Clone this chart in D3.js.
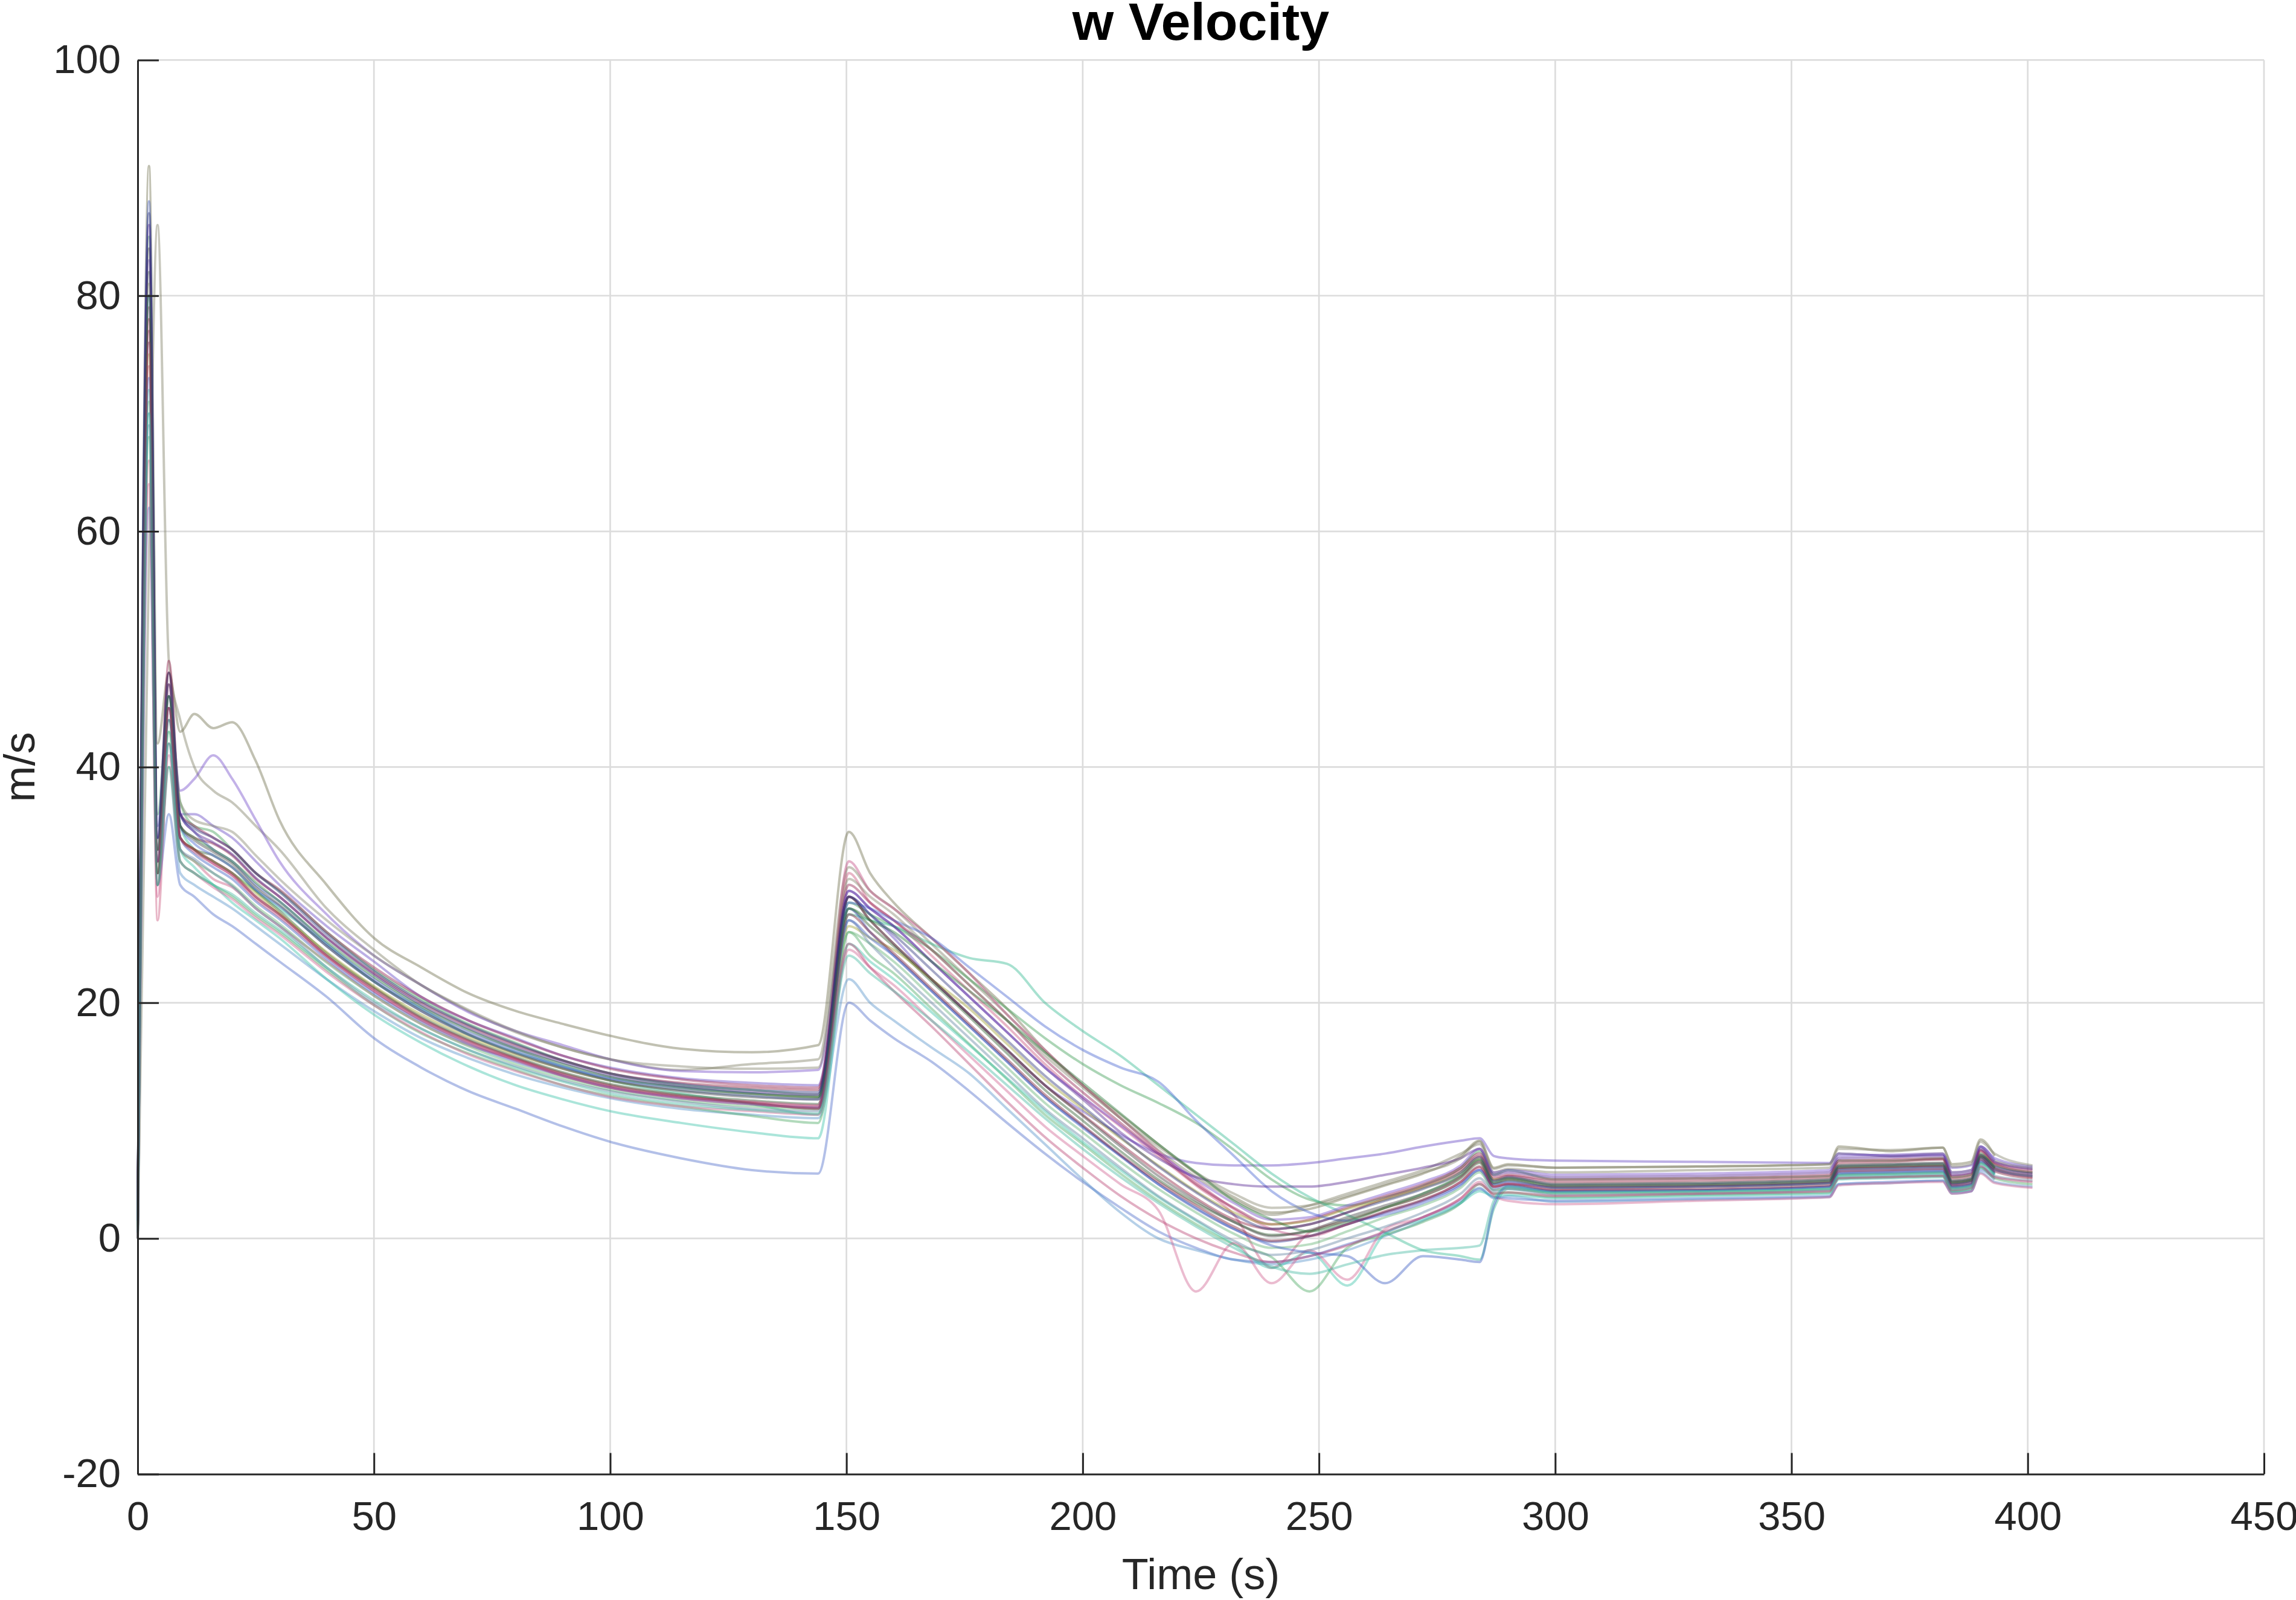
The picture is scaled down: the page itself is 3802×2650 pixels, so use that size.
<!DOCTYPE html>
<html>
<head>
<meta charset="utf-8">
<script src="https://cdn.jsdelivr.net/npm/d3@7"></script>
<style>
  html, body { margin: 0; padding: 0; background: #fff; }
  svg { display: block; }
</style>
</head>
<body>
<div id="chart"></div>
<script>
// ============================================================
// Data (one array per Monte Carlo run)
// ============================================================

const times = [
  0, 2.4, 4.2, 6.6, 9, 12, 16, 20, 25, 30,
  40, 50, 60, 70, 80, 90, 100, 115, 130, 144,
  150.5, 155, 160, 168, 176, 184, 192, 200, 208, 216,
  224, 232, 240, 248, 256, 264, 272, 280, 284, 287,
  290, 300, 330, 358, 360, 371, 382, 384, 388, 390, 393, 401
];

const xTicks = [0, 50, 100, 150, 200, 250, 300, 350, 400, 450];
const yTicks = [-20, 0, 20, 40, 60, 80, 100];

const run01 = [0.5, 91, 42, 48, 43, 44.5, 43.3, 43.8, 40.5, 35.5,
  30, 25.5, 23, 20.8, 19.3, 18.2, 17.2, 16.1, 15.8, 16.4,
  34.5, 31, 28.5, 25.5, 22.5, 19.5, 16, 13, 10.5, 8,
  5.5, 3.5, 2.2, 2.5, 3.5, 4.5, 5.5, 7, 8.3, 6,
  6.3, 6.0, 6.1, 6.3, 7.8, 7.4, 7.7, 6.3, 6.5, 8.4, 7.0, null];
const run02 = [0, 58, 86, 49, 44, 40, 38, 37, 35, 33,
  28, 24.5, 21.5, 19.3, 17.5, 16.2, 15.2, 14.3, 14.8, 15.2,
  31.5, 29.5, 28, 25, 22, 19, 15.8, 13, 10.2, 7.5,
  5.2, 3.3, 2.0, 2.8, 3.8, 4.8, 5.8, 7.2, 8.0, 5.6,
  5.9, 5.6, 5.8, 6.0, 7.2, 7.0, 7.2, 5.6, 5.8, 7.8, 6.6, 6.0];
const run03 = [1, 66, 27, 42, 33, 32, 30.5, 29.8, 28, 26.5,
  23.5, 20.6, 18.2, 16.4, 15.2, 13.8, 12.8, 12.0, 11.5, 11.2,
  31, 28.5, 27, 24, 21, 18, 14.8, 12, 9.5, 7,
  4.5, 2, -2.5, 0.5, 1.5, 2.6, 3.6, 5.2, 6.5, 4.4,
  4.7, 4.2, 4.4, 4.7, 5.9, 6.0, 6.1, 4.6, 4.9, 6.9, 5.9, 5.2];
const run04 = [0, 62, 30, 36, 30, 29, 27.5, 26.5, 25, 23.5,
  20.5, 17, 14.5, 12.5, 11, 9.5, 8.2, 6.8, 5.8, 5.5,
  20, 18.5, 17, 15, 12.5, 9.8, 7.2, 4.8, 2.6, 0.6,
  -0.8, -1.8, -2, -1.5, -0.5, 0.5, 1.8, 3.2, 4.2, 3.5,
  3.4, 3.2, 3.4, 3.6, 4.6, 4.8, 4.9, 3.9, 4.0, 5.8, 5.0, null];
const run05 = [2, 80, 33, 47, 36, 36, 35, 34, 32, 30,
  26.5, 23.5, 20.5, 18.5, 17, 15.5, 14.5, 13.6, 13.2, 13.0,
  29, 27.5, 25.5, 22, 19, 16, 13, 10.8, 8.8, 7.2,
  6.4, 6.2, 6.2, 6.4, 6.8, 7.2, 7.8, 8.3, 8.5, 7.0,
  6.8, 6.6, 6.5, 6.4, 7.2, 7.0, 7.1, 6.0, 6.2, 7.8, 6.8, 6.1];
const run06 = [1, 85, 36, 46, 37, 35, 34.5, 33, 31, 29.5,
  26, 22.8, 20.3, 18.2, 16.6, 15.1, 14, 13, 12.6, 12.2,
  28.5, 27.5, 26.5, 24.5, 22, 19.5, 17, 14.8, 13, 11.5,
  9.8, 7.5, 5, 3.3, 2.8, 3.5, 4.5, 6, 7.4, 5.4,
  5.8, 5.0, 5.1, 5.3, 6.6, 6.6, 6.8, 5.2, 5.4, 7.2, 6.2, 5.6];
const run07 = [0.5, 76, 32, 44, 35, 33, 32, 31, 29.5, 28,
  25, 21.8, 19.5, 17.3, 15.8, 14.6, 13.4, 12.3, 11.4, 10.5,
  27.5, 27, 26.5, 25, 23.8, 23.3, 20, 17.6, 15.5, 13,
  10.5, 8, 5.5, 3.5, 2, 0.5, -1, -1.5, -1.8, 2.5,
  4.2, 3.9, 4.0, 4.3, 5.4, 5.5, 5.6, 4.3, 4.5, 6.4, 5.4, null];
const run08 = [1, 79, 32, 48, 35, 34, 33.5, 32.5, 30.5, 29,
  25.5, 22.5, 20, 18, 16.4, 15.1, 14, 13.2, 12.8, 12.6,
  29, 27, 25, 22, 19, 16, 13, 10.5, 8, 5.6,
  3.4, 1.6, 0.8, 1.2, 2.2, 3.4, 4.4, 5.8, 7.0, 5.0,
  5.3, 4.8, 4.9, 5.2, 6.4, 6.5, 6.7, 5.1, 5.3, 7.4, 6.3, 5.6];
const run09 = [1.5, 82, 31, 45, 34, 33, 32.5, 31.5, 29.5, 27.8,
  24.2, 21.3, 18.8, 16.9, 15.4, 14.1, 13.1, 12.2, 11.7, 11.4,
  28, 26.5, 24.8, 21.8, 18.8, 15.7, 12.6, 10, 7.4, 5,
  3, 1.4, 0.3, 0.6, 1.6, 2.6, 3.6, 5.1, 6.4, 4.6,
  4.9, 4.3, 4.4, 4.7, 5.9, 6.0, 6.1, 4.7, 4.9, 6.9, 5.9, null];
const run10 = [0, 70, 30, 40, 31, 30, 29, 28, 26.5, 25,
  22, 19.3, 17, 15.3, 13.9, 12.8, 11.9, 11.0, 10.5, 10.2,
  22, 20, 18.5, 16.2, 14, 11, 8, 5, 2.2, 0,
  -1, -1.8, -2.2, -1.8, -1, 0.2, 1.5, 3, 4.3, 3.4,
  3.6, 3.1, 3.3, 3.5, 4.6, 4.7, 4.9, 3.8, 4.0, 5.6, 4.8, 4.4];
const run11 = [0.5, 74, 30, 47, 34, 33, 31.8, 30.8, 29, 27.5,
  24, 21, 18.6, 16.7, 15.2, 13.9, 12.9, 12.0, 11.6, 11.3,
  32, 29.5, 28, 25.5, 22.5, 19, 16, 13, 10.2, 7.4,
  4.8, 2.5, 0.8, 0.2, 1.2, 2.2, 3.2, 4.8, 6.0, 4.4,
  4.6, 4.4, 4.5, 4.8, 6.0, 6.1, 6.2, 4.8, 5.0, 7.0, 6.0, 5.4];
const run12 = [1, 88, 35, 46, 36, 34.5, 33, 32, 30, 28.6,
  25, 22, 19.5, 17.5, 16, 14.6, 13.6, 12.8, 12.3, 12.0,
  28, 26, 24, 21, 18, 15, 12, 9.5, 7, 4.6,
  2.5, 0.8, -0.3, 0.2, 1.2, 2.2, 3.2, 4.6, 5.8, 4.2,
  4.5, 4.0, 4.1, 4.4, 5.6, 5.7, 5.8, 4.4, 4.6, 6.6, 5.6, null];
const run13 = [1, 83, 34, 46, 38, 39, 41, 39, 35.5, 32,
  27.5, 24, 21.5, 19.2, 17.6, 16.4, 15.2, 14.2, 14.1, 14.3,
  29.5, 28, 26.5, 23.5, 20.5, 17.5, 14.5, 12, 9.6, 7.2,
  5, 3, 1.6, 1.8, 2.8, 3.8, 4.8, 6.2, 7.6, 5.6,
  5.8, 5.4, 5.5, 5.8, 7.0, 7.1, 7.2, 5.6, 5.8, 7.8, 6.6, null];
const run14 = [0.5, 68, 30, 40, 32, 31, 30, 29, 27.4, 26,
  22.8, 19.8, 17.4, 15.7, 14.3, 13, 12.1, 11.2, 10.4, 9.8,
  26, 24, 22.5, 19.5, 16.5, 13.5, 10.5, 8, 5.5, 3.2,
  1.2, -0.5, -1.6, -4.5, -0.8, 0.3, 1.4, 3.0, 4.6, 3.8,
  3.9, 3.5, 3.7, 3.9, 5.1, 5.2, 5.3, 4.0, 4.2, 6.0, 5.1, 4.6];
const run15 = [0, 72, 31, 43, 33, 31.5, 30, 28.5, 27, 25.5,
  22, 19, 16.6, 14.6, 13, 11.8, 10.8, 9.8, 9, 8.5,
  25, 23.5, 22, 19.2, 16.4, 13.6, 10.8, 8.2, 5.8, 3.5,
  1.5, -0.5, -2.5, -1.2, -4, 0.4, 1.6, 3.0, 4.0, 3.6,
  3.7, 3.4, 3.6, 3.8, 5.0, 5.1, 5.2, 4.0, 4.2, 6.0, 5.2, null];
const run16 = [1, 77, 33, 49, 36, 35, 34, 33, 31, 29.6,
  26, 23, 20.5, 18.5, 16.9, 15.5, 14.4, 13.5, 13.0, 12.8,
  30, 28.5, 27, 24.5, 21.5, 18.5, 15.2, 12.4, 9.8, 7.2,
  4.6, 2.6, 1.2, 1.6, 2.6, 3.6, 4.6, 6.0, 7.2, 5.2,
  5.4, 5.0, 5.1, 5.4, 6.6, 6.7, 6.8, 5.3, 5.5, 7.5, 6.4, 5.8];
const run17 = [1, 75, 31, 44, 34, 33, 32, 31, 29.3, 27.6,
  24.3, 21.4, 19, 17.1, 15.6, 14.4, 13.4, 12.6, 12.2, 12.0,
  26.5, 25.5, 24.5, 22, 19.5, 16.5, 13.5, 11, 8.5, 6.2,
  4, 2.2, 1.2, 1.5, 2.5, 3.3, 4.3, 5.6, 6.8, 5.0,
  5.1, 4.6, 4.7, 5.0, 6.2, 6.3, 6.4, 4.9, 5.1, 7.1, 6.0, null];
const run18 = [0.5, 80, 33, 45, 35, 33.5, 32.5, 31.5, 29.6, 28.2,
  24.8, 21.8, 19.3, 17.3, 15.8, 14.5, 13.5, 12.6, 12.1, 11.8,
  28.5, 28, 27, 25.5, 23, 20.5, 18, 16, 14.5, 13.3,
  10, 7, 4, 2.2, 1.5, 2, 3, 4.5, 5.8, 4.6,
  4.8, 4.3, 4.4, 4.7, 5.8, 5.9, 6.0, 4.6, 4.8, 6.8, 5.8, 5.3];
const run19 = [1, 64, 29, 41, 32, 31, 29.8, 28.8, 27.2, 25.8,
  22.6, 19.8, 17.5, 15.6, 14.2, 13, 12, 11.2, 10.8, 10.5,
  24.5, 23, 21.5, 18.5, 15.5, 12.5, 9.5, 7, 4.6, 2.4,
  -4.5, -0.4, -3.8, -1, -3.5, 0.8, 1.8, 3.4, 4.8, 3.6,
  3.2, 2.9, 3.2, 3.5, 4.5, 4.7, 4.8, 3.8, 4.0, 5.5, 4.7, 4.3];
const run20 = [1, 84, 32, 46, 35, 33.8, 32.8, 31.8, 29.8, 28.3,
  24.8, 21.8, 19.3, 17.3, 15.7, 14.4, 13.4, 12.5, 12.0, 11.8,
  29, 27, 25, 22, 19, 16, 13, 10.4, 7.8, 5.3,
  3.2, 1.4, 0.2, 0.7, 1.8, 2.8, 3.8, 5.3, 6.6, 4.7,
  5.0, 4.4, 4.5, 4.8, 6.0, 6.1, 6.2, 4.7, 4.9, 6.9, 5.9, 5.3];
const run21 = [0, 71, 31, 43, 33, 32, 31, 30, 28.2, 26.7,
  23.4, 20.6, 18.2, 16.3, 14.8, 13.6, 12.6, 11.7, 11.2, 11.0,
  26, 25, 23.5, 20.5, 17.5, 14.5, 11.5, 9, 6.5, 4.2,
  2.2, 0.4, -0.8, -0.5, 0.6, 1.8, 2.8, 4.3, 5.6, 4.1,
  4.3, 3.8, 3.9, 4.2, 5.4, 5.5, 5.6, 4.3, 4.5, 6.4, 5.5, null];
const run22 = [1, 86, 34, 47, 36, 34.5, 33.6, 32.6, 30.6, 29,
  25.5, 22.4, 19.8, 17.8, 16.2, 14.9, 13.8, 12.9, 12.4, 12.2,
  29.5, 28, 26.5, 23.5, 20.5, 17.5, 14.5, 11.8, 9, 6.8,
  5.2, 4.6, 4.4, 4.4, 4.8, 5.4, 6, 6.8, 7.6, 5.4,
  5.6, 5.2, 5.3, 5.6, 6.8, 6.9, 7.0, 5.4, 5.6, 7.6, 6.5, 5.9];
const run23 = [0.5, 69, 31, 42, 33, 32.2, 31, 29.9, 28, 26.5,
  23, 20, 17.8, 16, 14.6, 13.4, 12.5, 11.6, 11.0, 10.8,
  27, 25, 23, 20, 17, 14, 11, 8.5, 6, 3.6,
  1.6, -0.2, -1.4, -1, 0, 1, 2.2, 3.8, 5.1, 4.0,
  4.2, 3.7, 3.8, 4.1, 5.2, 5.3, 5.4, 4.2, 4.4, 6.2, 5.3, 4.9];
const run24 = [1, 73, 32, 44, 34, 32.6, 31.5, 30.5, 28.6, 27.1,
  23.7, 20.8, 18.4, 16.5, 15, 13.8, 12.8, 11.9, 11.4, 11.1,
  27, 25.5, 24, 21, 18, 15, 12, 9.4, 7, 4.6,
  2.6, 0.8, -0.6, -1.2, -1.5, -3.8, -1.5, -1.8, -2, 2.8,
  4.4, 4.0, 4.1, 4.4, 5.5, 5.6, 5.7, 4.4, 4.6, 6.5, 5.5, null];
const run25 = [1, 81, 33, 47, 37, 35.5, 35, 34.5, 32.5, 30.5,
  27, 24, 21.5, 19.4, 17.6, 16.2, 15.2, 14.6, 14.4, 14.5,
  30.5, 29, 27.5, 24.5, 21.5, 18.5, 15.5, 12.8, 10.2, 7.8,
  5.6, 3.8, 2.6, 2.8, 3.6, 4.6, 5.6, 6.8, 8.2, 5.9,
  6.2, 6.0, 6.1, 6.3, 7.6, 7.5, 7.7, 6.1, 6.3, 8.2, 7.2, 6.2];
const run26 = [0.5, 78, 31, 45, 34, 33, 32, 31, 29, 27.5,
  24, 21.2, 18.7, 16.8, 15.3, 14, 13, 12.1, 11.5, 11.0,
  27.5, 26, 24.2, 21.2, 18.2, 15.2, 12.2, 9.6, 7.1, 4.8,
  2.8, 1.0, -0.2, 0.2, 1.2, 2.3, 3.3, 4.8, 6.1, 4.4,
  4.6, 4.1, 4.2, 4.5, 5.7, 5.8, 5.9, 4.5, 4.7, 6.7, 5.7, 5.1];
const run27 = [1, 80, 33, 46, 35, 34, 33, 32, 30.2, 28.6,
  25.2, 22.2, 19.7, 17.7, 16.1, 14.8, 13.7, 12.8, 12.3, 12.0,
  28, 27, 26, 23.5, 21, 18.5, 15.8, 13.2, 10.6, 8,
  5.6, 3.2, 1.6, 0.6, 1.4, 2.6, 3.8, 5.4, 6.7, 4.8,
  5.1, 4.5, 4.6, 4.9, 6.1, 6.2, 6.3, 4.8, 5.0, 7.0, 6.0, null];
const run28 = [0, 76, 32, 45, 34, 32.8, 31.8, 30.8, 28.8, 27.3,
  23.9, 21, 18.5, 16.6, 15.1, 13.8, 12.8, 11.9, 11.4, 11.1,
  25, 23, 21, 18, 14.8, 11.6, 8.6, 6, 3.6, 1.6,
  0, -1.2, -2, -1.5, -0.6, 0.6, 1.8, 3.4, 4.6, 3.8,
  3.9, 3.6, 3.8, 4.0, 5.1, 5.2, 5.3, 4.1, 4.3, 6.1, 5.2, 4.8];
const run29 = [1.5, 87, 34, 48, 36, 34.8, 34, 33, 31, 29.4,
  25.8, 22.7, 20.1, 18.1, 16.5, 15.1, 14, 13.1, 12.6, 12.4,
  29, 27.5, 25.8, 22.8, 19.8, 16.8, 13.8, 11.2, 8.6, 6.1,
  3.9, 2.0, 0.8, 1.2, 2.2, 3.2, 4.2, 5.6, 6.9, 4.9,
  5.2, 4.6, 4.7, 5.0, 6.2, 6.3, 6.4, 4.9, 5.1, 7.1, 6.1, 5.5];
const run30 = [0.5, 70, 30, 42, 32, 31, 30, 29.2, 27.6, 26.2,
  23, 20.2, 17.8, 16, 14.5, 13.3, 12.3, 11.4, 10.9, 10.6,
  24, 22.5, 21, 18.5, 15.8, 13, 10.2, 7.6, 5.2, 3,
  1, -0.8, -2.4, -3, -2.2, -1.4, -1, -0.8, -0.6, 3.2,
  4.4, 3.9, 4.0, 4.2, 5.3, 5.4, 5.5, 4.2, 4.4, 6.3, 5.4, null];

const runs = [
  run01, run02, run03, run04, run05, run06, run07, run08, run09, run10,
  run11, run12, run13, run14, run15, run16, run17, run18, run19, run20,
  run21, run22, run23, run24, run25, run26, run27, run28, run29, run30
];

const runColors = [
  "#6b6b48", "#7a7a60", "#c8507a", "#4a6ac8", "#6040c0", "#3a9a50",
  "#30b890", "#8a1838", "#2c5a2c", "#5090c8", "#c04880", "#3a50b0",
  "#7048c8", "#48a860", "#38c0a8", "#901a4a", "#a0a030", "#4060d0",
  "#d06090", "#404040", "#60b070", "#502090", "#6080a0", "#3858c0",
  "#808068", "#7a1a30", "#287a3a", "#b84070", "#28307a", "#40b8a0"
];

// ============================================================
// Layout
// ============================================================

const W = 3802;
const H = 2650;
const plot = { left: 228, right: 3749, top: 99.4, bottom: 2441.5 };
const FONT = "'Liberation Sans', Arial, Helvetica, sans-serif";
const AXIS_COLOR = "#262626";

const svg = d3.select("#chart")
  .append("svg")
  .attr("width", W)
  .attr("height", H)
  .attr("viewBox", `0 0 ${W} ${H}`);

svg.append("rect")
  .attr("width", W)
  .attr("height", H)
  .attr("fill", "#fff");

const x = d3.scaleLinear().domain([0, 450]).range([plot.left, plot.right]);
const y = d3.scaleLinear().domain([-20, 100]).range([plot.bottom, plot.top]);

// --- grid ---
const gridG = svg.append("g").attr("class", "grid");

gridG.selectAll("line.gx")
  .data(xTicks.filter((d) => d > 0))
  .join("line")
  .attr("class", "gx")
  .attr("x1", (d) => x(d)).attr("x2", (d) => x(d))
  .attr("y1", plot.top).attr("y2", plot.bottom)
  .attr("stroke", "#dcdcdc")
  .attr("stroke-width", 2.7);

gridG.selectAll("line.gy")
  .data(yTicks.filter((d) => d > -20))
  .join("line")
  .attr("class", "gy")
  .attr("x1", plot.left).attr("x2", plot.right)
  .attr("y1", (d) => y(d)).attr("y2", (d) => y(d))
  .attr("stroke", "#dcdcdc")
  .attr("stroke-width", 2.7);

// --- runs ---
const line = d3.line()
  .defined((d) => d[1] != null)
  .x((d) => x(d[0]))
  .y((d) => y(d[1]))
  .curve(d3.curveMonotoneX);

svg.append("g")
  .attr("class", "runs")
  .selectAll("path")
  .data(runs)
  .join("path")
  .attr("d", (r) => line(times.map((t, i) => [t, r[i]])))
  .attr("fill", "none")
  .attr("stroke", (r, i) => runColors[i % runColors.length])
  .attr("stroke-width", 4)
  .attr("stroke-opacity", 0.42)
  .attr("stroke-linejoin", "round");

// --- axes ---
const xAxis = d3.axisBottom(x)
  .tickValues(xTicks)
  .tickFormat((d) => String(d))
  .tickSizeInner(-35)
  .tickSizeOuter(0)
  .tickPadding(45);

const yAxis = d3.axisLeft(y)
  .tickValues(yTicks)
  .tickFormat((d) => String(d))
  .tickSizeInner(-35)
  .tickSizeOuter(0)
  .tickPadding(28);

function styleAxis(g) {
  g.select(".domain").attr("stroke", AXIS_COLOR).attr("stroke-width", 3);
  g.selectAll(".tick line").attr("stroke", AXIS_COLOR).attr("stroke-width", 3);
  g.selectAll(".tick text")
    .attr("fill", AXIS_COLOR)
    .attr("font-family", FONT)
    .attr("font-size", "67px");
  g.attr("font-family", null).attr("font-size", null);
}

svg.append("g")
  .attr("transform", `translate(0,${plot.bottom})`)
  .call(xAxis)
  .call(styleAxis);

svg.append("g")
  .attr("transform", `translate(${plot.left},0)`)
  .call(yAxis)
  .call(styleAxis);

// --- labels ---
svg.append("text")
  .attr("x", (plot.left + plot.right) / 2)
  .attr("y", 66)
  .attr("text-anchor", "middle")
  .attr("font-family", FONT)
  .attr("font-size", "88px")
  .attr("font-weight", "700")
  .attr("fill", "#000")
  .text("w Velocity");

svg.append("text")
  .attr("x", (plot.left + plot.right) / 2)
  .attr("y", 2632)
  .attr("text-anchor", "middle")
  .attr("font-family", FONT)
  .attr("font-size", "72px")
  .attr("fill", AXIS_COLOR)
  .text("Time (s)");

svg.append("text")
  .attr("transform", `translate(57,${(plot.top + plot.bottom) / 2}) rotate(-90)`)
  .attr("text-anchor", "middle")
  .attr("font-family", FONT)
  .attr("font-size", "72px")
  .attr("fill", AXIS_COLOR)
  .text("m/s");
</script>
</body>
</html>
